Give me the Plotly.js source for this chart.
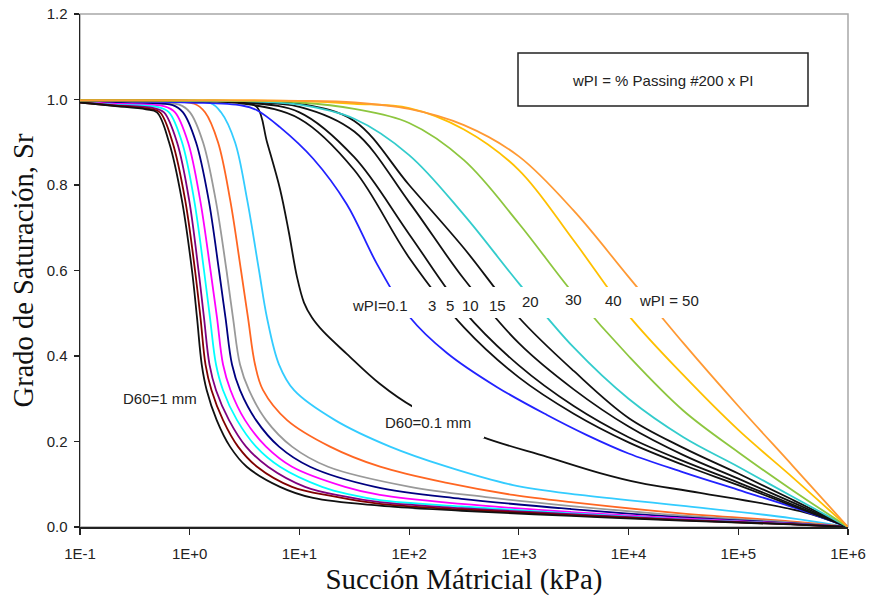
<!DOCTYPE html>
<html>
<head>
<meta charset="utf-8">
<script src="https://cdn.plot.ly/plotly-3.0.1.min.js"></script>
<style>html,body{margin:0;padding:0;background:#fff;}#chart{width:872px;height:602px;}</style>
</head>
<body>
<div id="chart"></div>
<script>
// ---------- DATA ----------
// Granular soils (D60 family): suction (kPa) and degree of saturation
const d60_a_s  = [0.1, 0.2, 0.4, 0.503, 0.648, 0.845, 1.049, 1.166, 1.287, 1.429, 1.762, 2.33, 3.309, 6.648, 13.3, 54, 300, 3000, 3e4, 3e5, 1e6];
const d60_a_sr = [0.993, 0.985, 0.977, 0.97, 0.9, 0.767, 0.6, 0.489, 0.38, 0.32, 0.25, 0.188, 0.141, 0.094, 0.068, 0.05, 0.038, 0.026, 0.015, 0.006, 0];
const d60_b_s  = [0.1, 0.2, 0.43, 0.536, 0.697, 0.906, 1.118, 1.254, 1.393, 1.58, 2.012, 2.756, 4.107, 8.56, 20, 54, 300, 3000, 3e4, 3e5, 1e6];
const d60_b_sr = [0.993, 0.986, 0.978, 0.97, 0.9, 0.767, 0.6, 0.489, 0.38, 0.32, 0.25, 0.188, 0.141, 0.094, 0.072, 0.054, 0.041, 0.028, 0.016, 0.0065, 0];
const d60_c_s  = [0.1, 0.2, 0.47, 0.583, 0.766, 0.985, 1.203, 1.35, 1.515, 1.737, 2.281, 3.261, 5.173, 11.25, 25, 54, 300, 3000, 3e4, 3e5, 1e6];
const d60_c_sr = [0.994, 0.987, 0.98, 0.97, 0.9, 0.767, 0.6, 0.489, 0.38, 0.32, 0.25, 0.188, 0.141, 0.094, 0.072, 0.058, 0.044, 0.03, 0.017, 0.007, 0];
const d60_d_s  = [0.1, 0.2, 0.52, 0.648, 0.851, 1.094, 1.35, 1.531, 1.737, 2.012, 2.699, 4.022, 6.648, 16.07, 30, 54, 300, 3000, 3e4, 3e5, 1e6];
const d60_d_sr = [0.994, 0.988, 0.982, 0.97, 0.9, 0.767, 0.6, 0.489, 0.38, 0.32, 0.25, 0.188, 0.141, 0.094, 0.075, 0.063, 0.048, 0.032, 0.018, 0.0075, 0];
const d60_e_s  = [0.1, 0.2, 0.59, 0.735, 0.965, 1.241, 1.547, 1.774, 2.012, 2.354, 3.192, 4.961, 8.56, 26.04, 54, 300, 3000, 3e4, 3e5, 1e6];
const d60_e_sr = [0.995, 0.99, 0.984, 0.97, 0.9, 0.767, 0.6, 0.489, 0.38, 0.32, 0.25, 0.188, 0.141, 0.094, 0.075, 0.054, 0.035, 0.02, 0.008, 0];
const d60_f_s  = [0.1, 0.3, 0.7, 0.869, 1.141, 1.484, 1.849, 2.12, 2.429, 2.874, 4.022, 6.516, 12.49, 48.9, 300, 3000, 3e4, 3e5, 1e6];
const d60_f_sr = [0.996, 0.991, 0.987, 0.97, 0.9, 0.767, 0.6, 0.489, 0.38, 0.32, 0.25, 0.188, 0.141, 0.094, 0.066, 0.042, 0.023, 0.009, 0];
const d60_g_s  = [0.1, 0.3, 0.8, 1.006, 1.322, 1.719, 2.165, 2.481, 2.874, 3.472, 4.961, 8.56, 18.23, 101.9, 500, 3000, 3e4, 3e5, 1e6];
const d60_g_sr = [0.996, 0.992, 0.988, 0.97, 0.9, 0.767, 0.6, 0.489, 0.38, 0.32, 0.25, 0.188, 0.141, 0.094, 0.07, 0.049, 0.027, 0.011, 0];
const d60_h_s  = [0.1, 0.3, 1.1, 1.379, 1.811, 2.33, 2.935, 3.4, 3.938, 4.658, 7.71, 19.0, 54.3, 221, 885, 3000, 3e4, 3e5, 1e6];
const d60_h_sr = [0.997, 0.994, 0.99, 0.97, 0.9, 0.767, 0.6, 0.489, 0.38, 0.32, 0.25, 0.188, 0.141, 0.103, 0.075, 0.058, 0.032, 0.013, 0];
const d60_i_s  = [0.1, 0.3, 1.5, 1.929, 2.588, 3.33, 4.283, 5.066, 6.516, 8.93, 21.1, 66.95, 221, 885, 3600, 3e4, 3e5, 1e6];
const d60_i_sr = [0.998, 0.996, 0.993, 0.97, 0.9, 0.767, 0.6, 0.489, 0.38, 0.32, 0.25, 0.188, 0.141, 0.098, 0.075, 0.05, 0.021, 0];
const d60_j_s  = [0.1, 1, 3, 4.107, 5.07, 6.66, 8.0, 9.5, 11.0, 13, 16.4, 27, 54, 109, 462, 1806, 5490, 12700, 44800, 366000, 1e6];
const d60_j_sr = [0.998, 0.997, 0.994, 0.982, 0.90, 0.79, 0.69, 0.585, 0.525, 0.49, 0.458, 0.405, 0.335, 0.281, 0.211, 0.164, 0.126, 0.103, 0.08, 0.037, 0];

// Plastic soils (wPI family)
const wpi01_s  = [0.1, 1, 3, 4.1, 6.6, 13.3, 27, 51, 102, 221, 634, 1806, 4170, 1e4, 31623, 1e5, 316228, 1e6];
const wpi01_sr = [0.997, 0.993, 0.986, 0.975, 0.936, 0.862, 0.755, 0.615, 0.49, 0.407, 0.327, 0.262, 0.215, 0.172, 0.128, 0.087, 0.046, 0];
const suctionWPI = [0.1, 0.316, 1, 3.16, 10, 31.6, 100, 316, 1000, 3162, 1e4, 31623, 1e5, 316228, 1e6];
const srWPI_3  = [0.998, 0.998, 0.996, 0.99, 0.955, 0.835, 0.63, 0.467, 0.35, 0.265, 0.198, 0.145, 0.098, 0.049, 0];
const srWPI_5  = [0.998, 0.998, 0.997, 0.993, 0.97, 0.865, 0.685, 0.505, 0.378, 0.283, 0.21, 0.154, 0.104, 0.052, 0];
const srWPI_10 = [0.998, 0.998, 0.997, 0.994, 0.983, 0.925, 0.76, 0.58, 0.43, 0.322, 0.235, 0.168, 0.113, 0.057, 0];
const srWPI_15 = [0.998, 0.998, 0.997, 0.996, 0.99, 0.95, 0.80, 0.652, 0.49, 0.365, 0.255, 0.185, 0.125, 0.063, 0];
const srWPI_20 = [0.998, 0.998, 0.997, 0.996, 0.988, 0.955, 0.87, 0.73, 0.57, 0.42, 0.30, 0.21, 0.141, 0.07, 0];
const srWPI_30 = [0.998, 0.998, 0.998, 0.997, 0.993, 0.978, 0.945, 0.858, 0.71, 0.545, 0.40, 0.272, 0.175, 0.085, 0];
const srWPI_40 = [0.998, 0.998, 0.998, 0.998, 0.996, 0.99, 0.98, 0.93, 0.835, 0.67, 0.495, 0.355, 0.227, 0.115, 0];
const srWPI_50 = [0.998, 0.998, 0.998, 0.998, 0.997, 0.993, 0.978, 0.94, 0.867, 0.74, 0.585, 0.43, 0.283, 0.142, 0];

const xTickVals = [0.1, 1, 10, 100, 1e3, 1e4, 1e5, 1e6];
const xTickText = ['1E-1', '1E+0', '1E+1', '1E+2', '1E+3', '1E+4', '1E+5', '1E+6'];
const wpiLabels = ['wPI=0.1', '3', '5', '10', '15', '20', '30', '40', 'wPI = 50'];
const d60Labels = ['D60=1 mm', 'D60=0.1 mm'];
const formulaText = 'wPI = % Passing #200 x PI';
const xTitle = 'Succión Mátricial (kPa)';
const yTitle = 'Grado de Saturación, Sr';

// ---------- TRACES ----------
function line(x, y, color, w) {
  return {x: x, y: y, type: 'scatter', mode: 'lines',
          line: {color: color, width: w || 1.8, shape: 'spline', smoothing: 1},
          hoverinfo: 'skip', showlegend: false};
}
const traces = [
  line(d60_j_s, d60_j_sr, '#111111'),
  line(d60_i_s, d60_i_sr, '#33CCFF'),
  line(d60_h_s, d60_h_sr, '#FF6622'),
  line(d60_g_s, d60_g_sr, '#999999'),
  line(d60_f_s, d60_f_sr, '#000080'),
  line(d60_e_s, d60_e_sr, '#FF00FF'),
  line(d60_d_s, d60_d_sr, '#00FFFF'),
  line(d60_c_s, d60_c_sr, '#800080'),
  line(d60_b_s, d60_b_sr, '#800000'),
  line(d60_a_s, d60_a_sr, '#111111'),
  line(wpi01_s, wpi01_sr, '#2222FF'),
  line(suctionWPI, srWPI_3, '#111111'),
  line(suctionWPI, srWPI_5, '#111111'),
  line(suctionWPI, srWPI_10, '#111111'),
  line(suctionWPI, srWPI_15, '#111111'),
  line(suctionWPI, srWPI_20, '#33CCCC'),
  line(suctionWPI, srWPI_30, '#8DC63F'),
  line(suctionWPI, srWPI_40, '#FFC000'),
  line(suctionWPI, srWPI_50, '#FF9933')
];

// ---------- LAYOUT ----------
const L = 80, R = 848, T = 14, B = 527;
const px = x => (x - L) / (R - L);
const py = y => (B - y) / (B - T);
const labelFont = {family: 'Liberation Sans, Arial, sans-serif', size: 15, color: '#222'};

const wpiPos = [[380,305],[432,305],[450,305],[470,305],[497,305],[530,301],[573,299],[613,300],[669,300]];
const annotations = wpiLabels.map((t, i) => ({
  text: t, x: px(wpiPos[i][0]), y: py(wpiPos[i][1]), xref: 'paper', yref: 'paper',
  showarrow: false, xanchor: 'center', yanchor: 'middle', font: labelFont
}));
annotations.push({text: d60Labels[0], x: px(160), y: py(398), xref: 'paper', yref: 'paper',
  showarrow: false, xanchor: 'center', yanchor: 'middle', font: labelFont});
annotations.push({text: d60Labels[1], x: px(428), y: py(422), xref: 'paper', yref: 'paper',
  showarrow: false, xanchor: 'center', yanchor: 'middle', font: labelFont});
annotations.push({text: formulaText, x: px(663), y: py(80), xref: 'paper', yref: 'paper',
  showarrow: false, xanchor: 'center', yanchor: 'middle', font: labelFont});

const shapes = [
  {type: 'rect', xref: 'paper', yref: 'paper', x0: 0, x1: 1, y0: 0, y1: 1,
   line: {color: '#A8A8A8', width: 1.5}, layer: 'below'},
  {type: 'rect', xref: 'paper', yref: 'paper', x0: px(340), x1: px(705), y0: py(318), y1: py(287),
   fillcolor: '#ffffff', line: {width: 0}, layer: 'above'},
  {type: 'rect', xref: 'paper', yref: 'paper', x0: px(412), x1: px(484), y0: py(438), y1: py(405),
   fillcolor: '#ffffff', line: {width: 0}, layer: 'above'},
  {type: 'rect', xref: 'paper', yref: 'paper', x0: px(518), x1: px(808), y0: py(106), y1: py(53),
   fillcolor: '#ffffff', line: {color: '#222', width: 1.5}, layer: 'above'}
];

const tickFont = {family: 'Liberation Sans, Arial, sans-serif', size: 15, color: '#222'};
const titleFamily = 'Liberation Serif, Times New Roman, serif';

const layout = {
  width: 872, height: 602,
  margin: {l: L, r: 872 - R, t: T, b: 602 - B},
  paper_bgcolor: '#fff', plot_bgcolor: '#fff',
  showlegend: false,
  xaxis: {
    type: 'log', range: [-1, 6], tickvals: xTickVals, ticktext: xTickText,
    showgrid: false, zeroline: false, showline: true, linecolor: '#222', linewidth: 1.5,
    ticks: 'outside', ticklen: 6, tickcolor: '#222', tickwidth: 1.2, ticklabelstandoff: 6,
    tickfont: tickFont,
    title: {text: xTitle, font: {family: titleFamily, size: 29, color: '#111'}, standoff: 8},
    fixedrange: true
  },
  yaxis: {
    range: [0, 1.2], dtick: 0.2, tick0: 0, tickformat: '.1f',
    showgrid: false, zeroline: false, showline: true, linecolor: '#222', linewidth: 1.5,
    ticks: 'outside', ticklen: 5, tickcolor: '#222', tickwidth: 1.2, ticklabelstandoff: 3,
    tickfont: tickFont,
    title: {text: yTitle, font: {family: titleFamily, size: 28.5, color: '#111'}, standoff: 4},
    fixedrange: true
  },
  annotations: annotations,
  shapes: shapes
};

Plotly.newPlot('chart', traces, layout, {displayModeBar: false, staticPlot: true});
</script>
</body>
</html>
